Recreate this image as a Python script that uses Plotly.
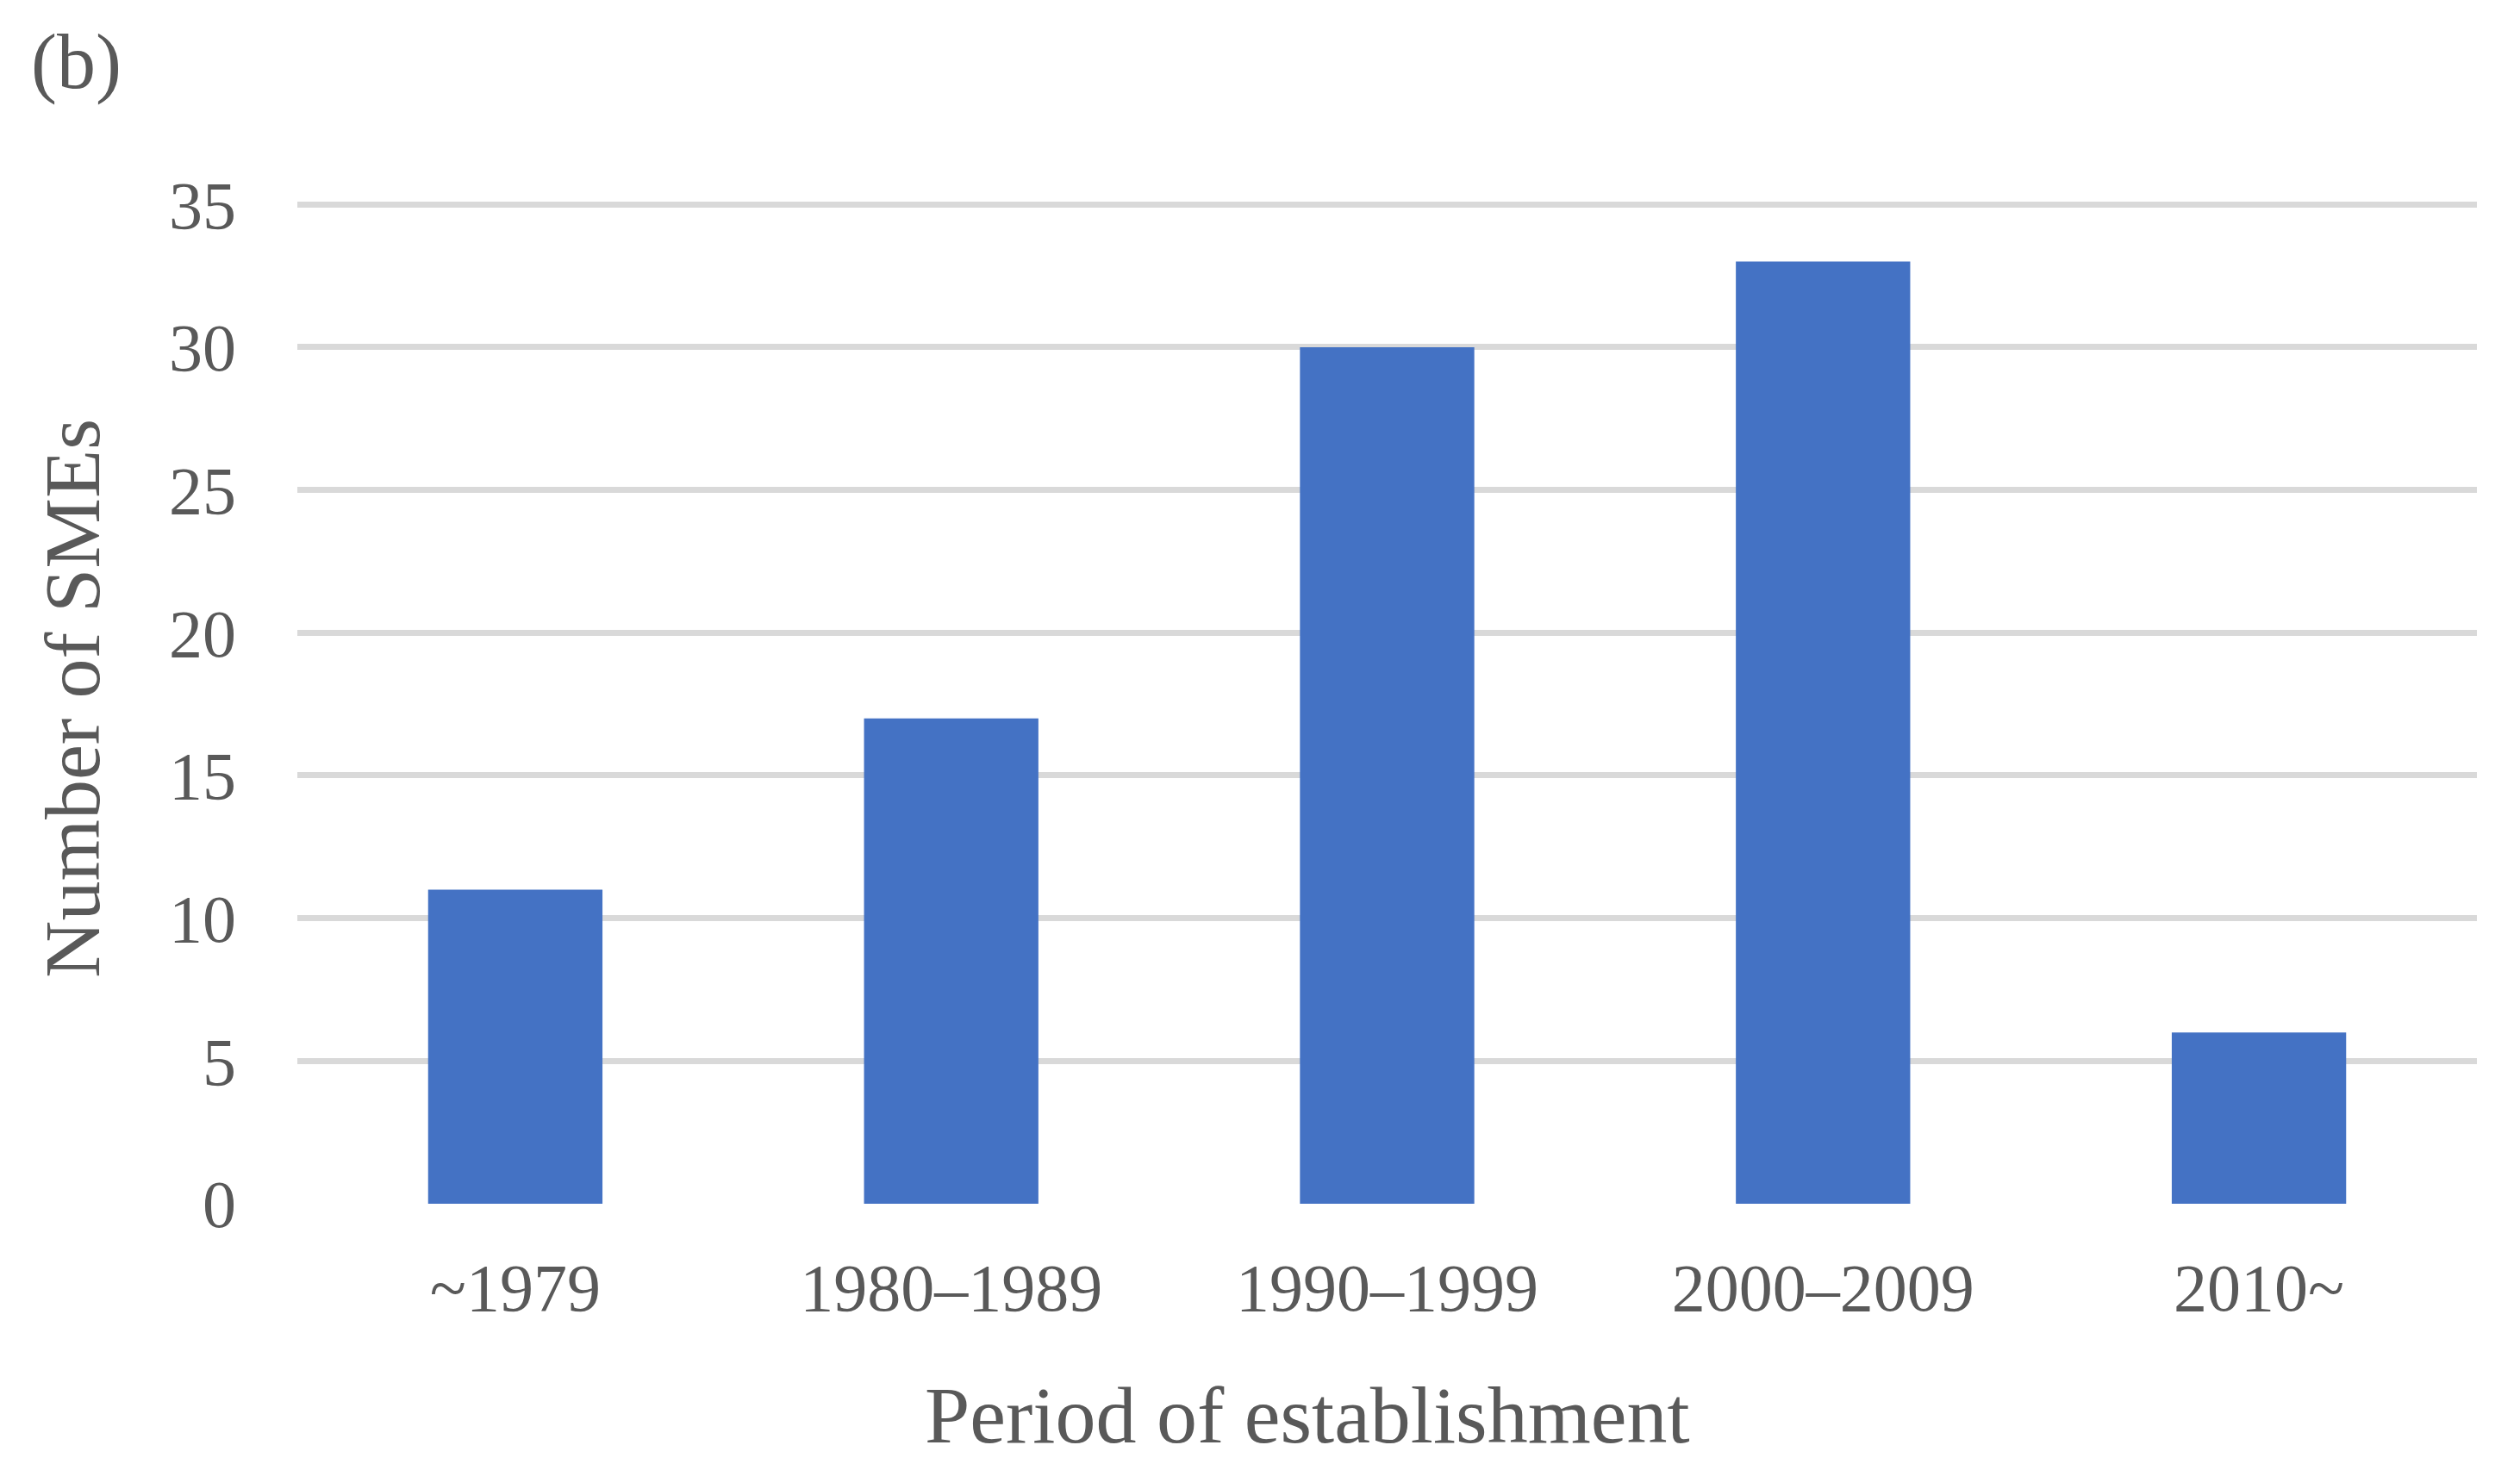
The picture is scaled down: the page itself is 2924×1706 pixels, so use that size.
import plotly.graph_objects as go

categories = ["~1979", "1980–1989", "1990–1999", "2000–2009", "2010~"]
counts = [11, 17, 30, 33, 6]
y_ticks = [0, 5, 10, 15, 20, 25, 30, 35]

FONT = "Liberation Serif"
TXT = "#595959"

OFF = 8  # page body margin
W, H = 2924 - 2 * OFF, 1706 - 2 * OFF
Y_TOP = 35.1
PX_PER_UNIT = 1160 / 35
EXTRA = round((Y_TOP - 35) * PX_PER_UNIT)
ML, MR, MT, MB = 345 - OFF, 42, 237 - OFF - EXTRA, 301
PW = W - ML - MR
PH = H - MT - MB

def px_x(p):
    return (p - OFF - ML) / PW

def px_y(p):
    return (H - MB - (p - OFF)) / PH

fig = go.Figure(
    go.Bar(
        x=categories,
        y=counts,
        marker=dict(color="#4472C4", line=dict(width=0)),
    )
)

fig.update_layout(
    width=W,
    height=H,
    margin=dict(l=ML, r=MR, t=MT, b=MB),
    paper_bgcolor="white",
    plot_bgcolor="white",
    bargap=0.6,
    showlegend=False,
    font=dict(family=FONT, color=TXT, size=78),
    annotations=[
        dict(text="(b)", xref="paper", yref="paper", x=px_x(34), y=px_y(72),
             xanchor="left", yanchor="middle", showarrow=False,
             font=dict(family=FONT, size=90, color=TXT)),
        dict(text="Period of establishment", xref="paper", yref="paper",
             x=px_x(1517), y=px_y(1642), xanchor="center", yanchor="middle",
             showarrow=False, font=dict(family=FONT, size=94, color=TXT)),
        dict(text="Number of SMEs", xref="paper", yref="paper",
             x=px_x(84), y=px_y(811), xanchor="center", yanchor="middle",
             textangle=-90, showarrow=False,
             font=dict(family=FONT, size=92, color=TXT)),
    ],
)

fig.update_xaxes(
    showgrid=False, showline=False, zeroline=False, ticks="",
    tickfont=dict(family=FONT, size=78, color=TXT),
    ticklabelstandoff=45,
)
fig.update_yaxes(
    range=[0, Y_TOP], tickvals=y_ticks, showgrid=True, gridcolor="#D9D9D9",
    gridwidth=7, zeroline=False, showline=False, ticks="",
    tickfont=dict(family=FONT, size=78, color=TXT),
    ticklabelstandoff=70,
)

fig.write_html("out.html")
